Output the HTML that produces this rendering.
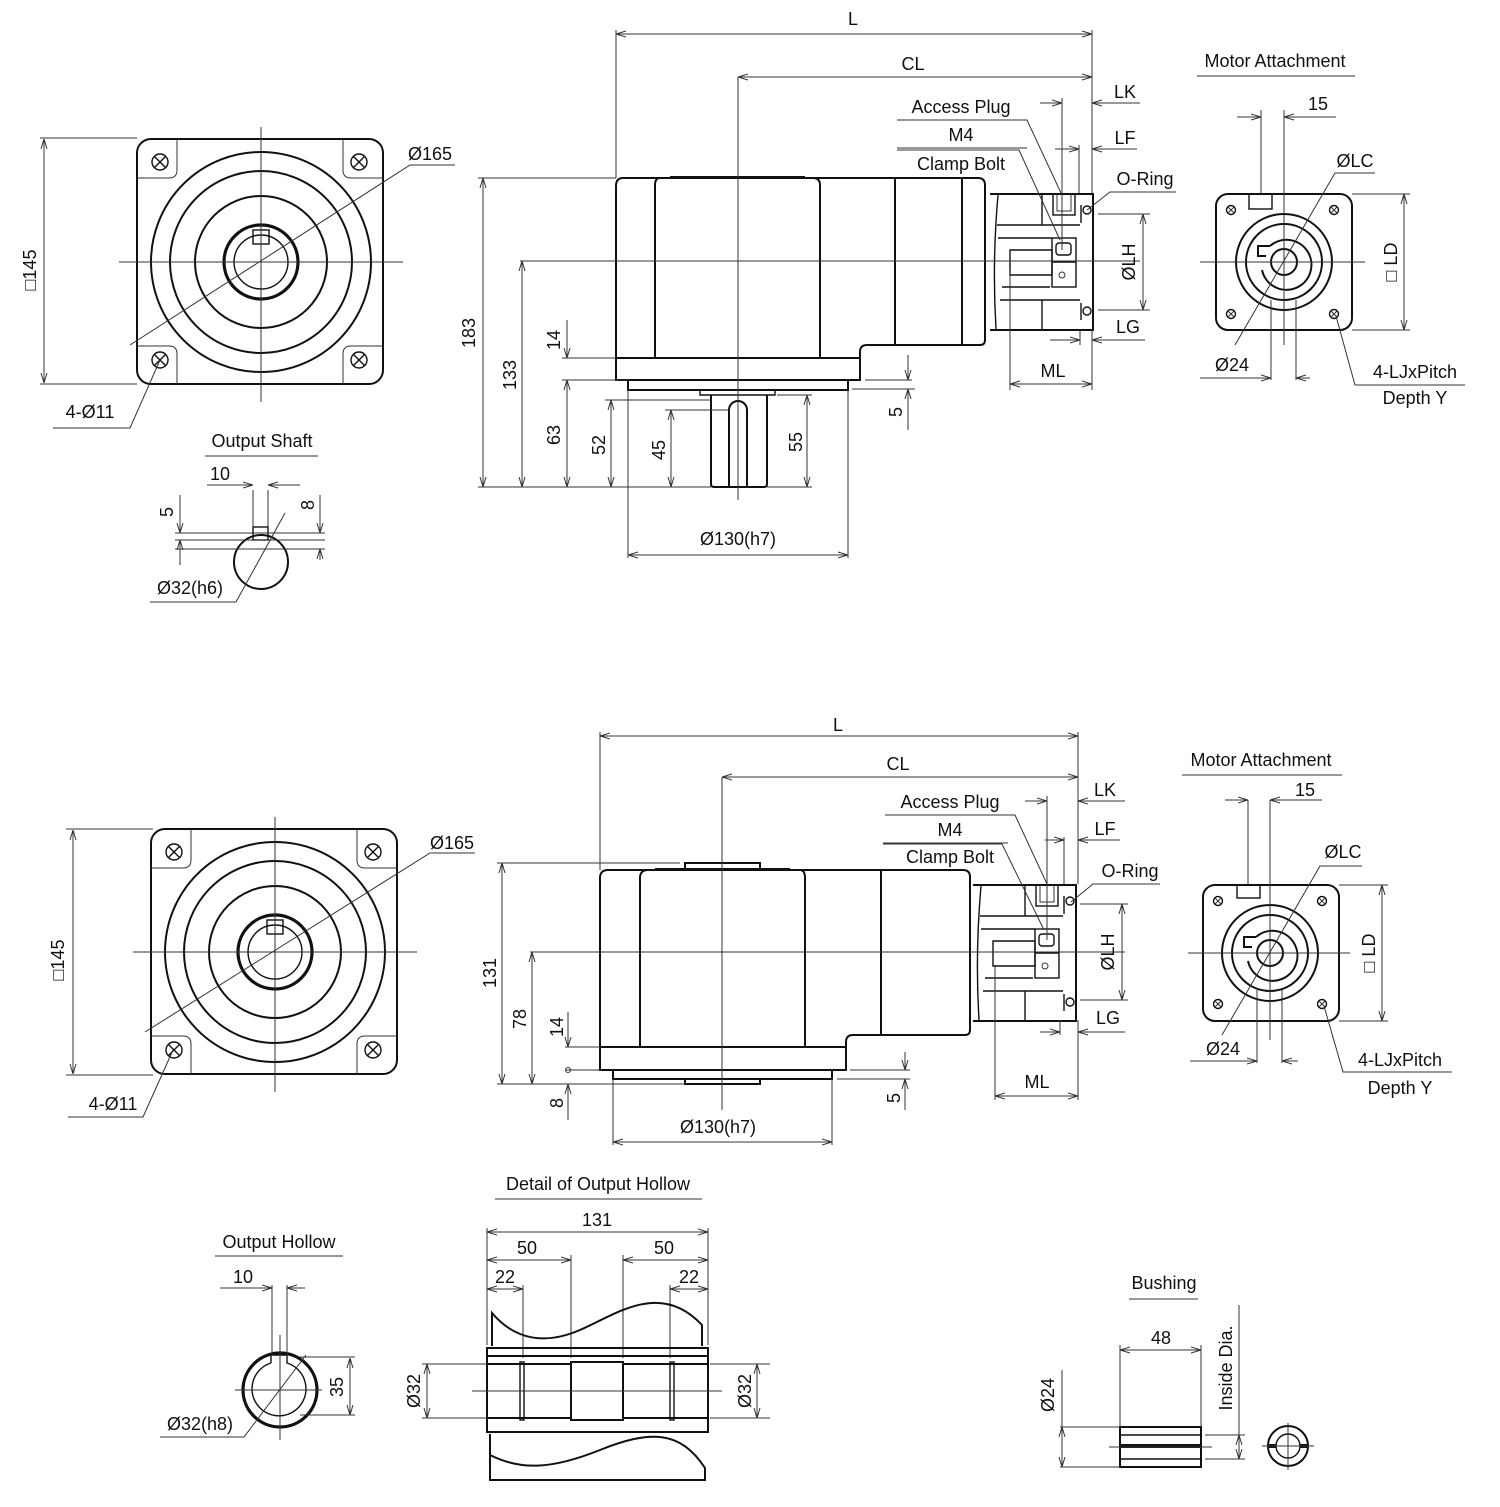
<!DOCTYPE html>
<html><head><meta charset="utf-8"><style>
html,body{margin:0;padding:0;background:#fff}
svg{display:block}
text{font-family:"Liberation Sans","DejaVu Sans",sans-serif;font-size:18px;fill:#111}
.t{stroke:#111;stroke-width:2;fill:none}
.m{stroke:#111;stroke-width:1.4;fill:none}
.d{stroke:#333;stroke-width:1;fill:none}
.tk{stroke:#111;stroke-width:3.2;fill:none}
</style></head><body>
<svg width="1500" height="1507" viewBox="0 0 1500 1507" xmlns="http://www.w3.org/2000/svg">
<defs>
<marker id="a" viewBox="0 0 10 10" refX="10" refY="5" markerWidth="10" markerHeight="10" orient="auto-start-reverse" markerUnits="userSpaceOnUse"><path d="M0,2 L10,5 L0,8" fill="none" stroke="#333" stroke-width="1"/></marker>
<g id="hole"><circle r="8" class="m"/><path d="M-5.5,-5.5 L5.5,5.5 M5.5,-5.5 L-5.5,5.5" class="m"/></g>
<g id="shole"><circle r="4.5" class="m"/><path d="M-3,-3 L3,3 M3,-3 L-3,3" class="d"/></g>
<g id="front">
 <rect x="-124" y="-123" width="246" height="245" rx="14" class="t"/>
 <path d="M-84,-123 V-92 Q-84,-84 -92,-84 H-124 M82,-123 V-92 Q82,-84 90,-84 H122 M-84,122 V92 Q-84,84 -92,84 H-124 M82,122 V92 Q82,84 90,84 H122" class="d"/>
 <use href="#hole" x="-101" y="-100"/><use href="#hole" x="98" y="-100"/><use href="#hole" x="-101" y="98"/><use href="#hole" x="98" y="98"/>
 <circle r="110" class="t"/><circle r="91" class="t"/><circle r="66" class="t"/><circle r="37" class="tk"/><circle r="27" class="m"/>
 <rect x="-8" y="-32" width="16" height="14" class="m" fill="#fff"/>
 <path d="M-142,0 H142 M0,-135 V140" class="d"/>
</g>
<g id="adapter">
 <path d="M0,1 H103 V137 H0" class="t"/>
 <path d="M8,2 Q2,70 6,136" class="m"/>
 <path d="M7,32 H90 M8,45 H62 M20,57 H62 V82 H20 Z M12,94 H60 M10,107 H90 M52,1 V32 M52,107 V137" class="m"/>
 <rect x="63" y="1" width="22" height="21" class="m"/><path d="M67,1 V18 H81 V1" class="d"/>
 <rect x="62" y="45" width="24" height="49" class="m"/><path d="M62,69 H86" class="m"/><rect x="66" y="50" width="15" height="12" rx="3" class="m"/><circle cx="72" cy="82" r="3" class="d"/>
 <circle cx="97" cy="17" r="4" class="m"/><circle cx="97" cy="118" r="4" class="m"/>
 <path d="M91,12 V30 M91,110 V127" class="m"/>
</g>
</defs>

<!-- ========== TOP ========== -->
<use href="#front" x="261" y="262"/>
<path d="M40,138 H137 M40,384 H137" class="d"/>
<path d="M44,139 V383" class="d" marker-start="url(#a)" marker-end="url(#a)"/>
<text transform="translate(36,270) rotate(-90)" text-anchor="middle">□145</text>
<path d="M455,165 H410 L130,345" class="d"/>
<text x="430" y="160" text-anchor="middle">Ø165</text>
<path d="M53,428 H130 L160,360" class="d"/>
<text x="90" y="418" text-anchor="middle">4-Ø11</text>

<!-- output shaft -->
<text x="262" y="447" text-anchor="middle">Output Shaft</text>
<path d="M205,456 H318" class="d"/>
<circle cx="261" cy="562" r="27" class="t"/>
<rect x="253" y="527" width="15" height="13" class="m" fill="#fff"/>
<path d="M253,490 V527 M268,490 V527 M207,485 H253 M268,485 H300" class="d"/>
<path d="M230,485 H253" class="d" marker-end="url(#a)"/><path d="M290,485 H268" class="d" marker-end="url(#a)"/>
<text x="220" y="480" text-anchor="middle">10</text>
<path d="M175,533 H325 M175,540 H325 M175,549 H325" class="d"/>
<path d="M180,495 V533" class="d" marker-end="url(#a)"/><path d="M180,565 V540" class="d" marker-end="url(#a)"/>
<text transform="translate(173,512) rotate(-90)" text-anchor="middle">5</text>
<path d="M320,495 V533" class="d" marker-end="url(#a)"/><path d="M320,560 V549" class="d" marker-end="url(#a)"/>
<text transform="translate(314,505) rotate(-90)" text-anchor="middle">8</text>
<path d="M150,602 H236 L285,513" class="d"/>
<text x="190" y="594" text-anchor="middle">Ø32(h6)</text>

<!-- side view top -->
<path d="M623,178 H813 Q820,178 820,185" class="t"/>
<path d="M623,178 Q616,178 616,186 V380 H860 V352 Q860,345 867,345 H980 Q985,345 985,340 V185 Q985,178 978,178 H813" class="t"/>
<path d="M660,178 Q655,178 655,185 V358 M820,185 V358 M895,178 V345 M962,178 V345 M616,358 H860" class="t"/>
<path d="M670,177 H805" class="t"/>
<path d="M628,380 V390 H848 V380" class="t"/>
<path d="M700,390 V395 H775 V390" class="m"/>
<path d="M711,395 V484 Q711,487 714,487 H764 Q767,487 767,484 V395" class="t"/>
<path d="M729,487 V410 A9,9 0 0 1 747,410 V487" class="t"/>
<use href="#adapter" x="990" y="193"/>
<!-- centerlines -->
<path d="M520,261 H1140 M738,77 V500" class="d"/>
<!-- dims -->
<path d="M616,30 V178 M1092,30 V193" class="d"/>
<path d="M616,34 H1092" class="d" marker-start="url(#a)" marker-end="url(#a)"/>
<text x="853" y="25" text-anchor="middle">L</text>
<path d="M738,77 H1092" class="d" marker-start="url(#a)" marker-end="url(#a)"/>
<text x="913" y="70" text-anchor="middle">CL</text>
<path d="M478,178 H616 M478,487 H711" class="d"/>
<path d="M483,178 V487" class="d" marker-start="url(#a)" marker-end="url(#a)"/>
<text transform="translate(475,333) rotate(-90)" text-anchor="middle">183</text>
<path d="M522,261 V487" class="d" marker-start="url(#a)" marker-end="url(#a)"/>
<text transform="translate(516,375) rotate(-90)" text-anchor="middle">133</text>
<path d="M562,358 H616 M562,380 H628" class="d"/>
<path d="M567,320 V358" class="d" marker-end="url(#a)"/>
<path d="M567,380 V487" class="d" marker-start="url(#a)" marker-end="url(#a)"/>
<text transform="translate(560,340) rotate(-90)" text-anchor="middle">14</text>
<text transform="translate(560,435) rotate(-90)" text-anchor="middle">63</text>
<path d="M605,400 H711" class="d"/>
<path d="M611,400 V487" class="d" marker-start="url(#a)" marker-end="url(#a)"/>
<text transform="translate(605,445) rotate(-90)" text-anchor="middle">52</text>
<path d="M665,410 H729" class="d"/>
<path d="M671,410 V487" class="d" marker-start="url(#a)" marker-end="url(#a)"/>
<text transform="translate(665,450) rotate(-90)" text-anchor="middle">45</text>
<path d="M777,395 H812 M767,487 H812" class="d"/>
<path d="M807,395 V487" class="d" marker-start="url(#a)" marker-end="url(#a)"/>
<text transform="translate(802,442) rotate(-90)" text-anchor="middle">55</text>
<path d="M628,390 V558 M848,390 V558" class="d"/>
<path d="M628,555 H848" class="d" marker-start="url(#a)" marker-end="url(#a)"/>
<text x="738" y="545" text-anchor="middle">Ø130(h7)</text>
<path d="M865,380 H912 M852,389 H915" class="d"/>
<path d="M908,355 V380" class="d" marker-end="url(#a)"/><path d="M908,430 V389" class="d" marker-end="url(#a)"/>
<text transform="translate(902,412) rotate(-90)" text-anchor="middle">5</text>
<!-- adapter dims -->
<text x="961" y="113" text-anchor="middle">Access Plug</text>
<path d="M897,120 H1027 L1061,193" class="d"/>
<text x="961" y="141" text-anchor="middle">M4</text>
<path d="M897,148 H1027" class="d"/>
<text x="961" y="170" text-anchor="middle">Clamp Bolt</text>
<path d="M897,150 H1019 L1060,240" class="d"/>
<path d="M1062,98 V250 M1079,145 V193" class="d"/>
<path d="M1040,103 H1062" class="d" marker-end="url(#a)"/><path d="M1140,103 H1092" class="d" marker-end="url(#a)"/>
<text x="1125" y="98" text-anchor="middle">LK</text>
<path d="M1055,149 H1079" class="d" marker-end="url(#a)"/><path d="M1137,149 H1092" class="d" marker-end="url(#a)"/>
<text x="1125" y="144" text-anchor="middle">LF</text>
<text x="1145" y="185" text-anchor="middle">O-Ring</text>
<path d="M1176,192 H1110 L1087,210" class="d"/>
<path d="M1098,214 H1150 M1098,310 H1150" class="d"/>
<path d="M1143,214 V310" class="d" marker-start="url(#a)" marker-end="url(#a)"/>
<text transform="translate(1135,262) rotate(-90)" text-anchor="middle">ØLH</text>
<path d="M1080,330 V345 M1092,330 V345" class="d"/>
<path d="M1050,340 H1080" class="d" marker-end="url(#a)"/><path d="M1145,340 H1092" class="d" marker-end="url(#a)"/>
<text x="1128" y="333" text-anchor="middle">LG</text>
<path d="M1010,270 V390" class="d"/><path d="M1092,345 V390" class="d"/>
<path d="M1010,384 H1092" class="d" marker-start="url(#a)" marker-end="url(#a)"/>
<text x="1053" y="377" text-anchor="middle">ML</text>

<!-- motor attachment top -->
<text x="1275" y="67" text-anchor="middle">Motor Attachment</text>
<path d="M1197,76 H1355" class="d"/>
<rect x="1216" y="194" width="136" height="136" rx="12" class="t"/>
<use href="#shole" x="1231" y="210"/><use href="#shole" x="1334" y="210"/><use href="#shole" x="1231" y="314"/><use href="#shole" x="1334" y="314"/>
<circle cx="1284" cy="262" r="48" class="t"/><circle cx="1284" cy="262" r="38" class="t"/>
<path d="M1270,246 A25,25 0 1 1 1262,270" class="t"/><path d="M1270,246 H1258 V256 H1266" class="t"/>
<circle cx="1284" cy="262" r="13" class="t"/>
<rect x="1249" y="194" width="23" height="15" class="m"/>
<path d="M1200,262 H1365 M1284,110 V345" class="d"/>
<path d="M1261,110 V194 M1271,300 V380 M1296,300 V380" class="d"/>
<path d="M1237,117 H1261" class="d" marker-end="url(#a)"/><path d="M1336,117 H1284" class="d" marker-end="url(#a)"/>
<text x="1318" y="110" text-anchor="middle">15</text>
<text x="1355" y="167" text-anchor="middle">ØLC</text>
<path d="M1375,173 H1335 L1235,345" class="d"/>
<path d="M1352,194 H1410 M1352,330 H1410" class="d"/>
<path d="M1404,194 V330" class="d" marker-start="url(#a)" marker-end="url(#a)"/>
<text transform="translate(1397,262) rotate(-90)" text-anchor="middle">□ LD</text>
<path d="M1200,378 H1271" class="d" marker-end="url(#a)"/><path d="M1310,378 H1296" class="d" marker-end="url(#a)"/>
<text x="1232" y="371" text-anchor="middle">Ø24</text>
<path d="M1336,316 L1355,385 H1465" class="d"/>
<text x="1415" y="378" text-anchor="middle">4-LJxPitch</text>
<text x="1415" y="404" text-anchor="middle">Depth Y</text>

<!-- ========== BOTTOM ========== -->
<use href="#front" x="275" y="952"/>
<path d="M66,829 H153 M66,1075 H153" class="d"/>
<path d="M73,830 V1074" class="d" marker-start="url(#a)" marker-end="url(#a)"/>
<text transform="translate(64,960) rotate(-90)" text-anchor="middle">□145</text>
<path d="M475,853 H430 L145,1032" class="d"/>
<text x="452" y="849" text-anchor="middle">Ø165</text>
<path d="M68,1117 H143 L173,1050" class="d"/>
<text x="113" y="1110" text-anchor="middle">4-Ø11</text>

<!-- side bottom -->
<path d="M608,870 Q600,870 600,878 V1070 H846 V1042 Q846,1035 853,1035 H965 Q970,1035 970,1030 V877 Q970,870 963,870 Z" class="t"/>
<path d="M648,870 Q640,870 640,878 V1047 M800,870 Q805,870 805,878 V1047 M881,870 V1035 M600,1047 H846" class="t"/>
<path d="M655,869 H790" class="t"/>
<path d="M685,869 V863 H760 V869" class="t"/>
<path d="M613,1070 V1079 H832 V1070" class="t"/>
<path d="M685,1079 V1084 H760 V1079" class="t"/>
<use href="#adapter" x="973" y="884"/>
<path d="M530,952 H1125 M722,777 V1110" class="d"/>
<path d="M600,732 V870 M1078,732 V884" class="d"/>
<path d="M600,736 H1078" class="d" marker-start="url(#a)" marker-end="url(#a)"/>
<text x="838" y="731" text-anchor="middle">L</text>
<path d="M722,777 H1078" class="d" marker-start="url(#a)" marker-end="url(#a)"/>
<text x="898" y="770" text-anchor="middle">CL</text>
<path d="M497,863 H680 M497,1084 H685" class="d"/>
<path d="M502,863 V1084" class="d" marker-start="url(#a)" marker-end="url(#a)"/>
<text transform="translate(496,973) rotate(-90)" text-anchor="middle">131</text>
<path d="M532,952 V1084" class="d" marker-start="url(#a)" marker-end="url(#a)"/>
<text transform="translate(526,1019) rotate(-90)" text-anchor="middle">78</text>
<path d="M565,1047 H600 M565,1070 H600" class="d"/>
<path d="M568,1012 V1047" class="d" marker-end="url(#a)"/>
<path d="M568,1120 V1084" class="d" marker-end="url(#a)"/>
<circle cx="568" cy="1070" r="2.5" class="d"/>
<text transform="translate(563,1027) rotate(-90)" text-anchor="middle">14</text>
<text transform="translate(563,1103) rotate(-90)" text-anchor="middle">8</text>
<path d="M613,1079 V1145 M832,1079 V1145" class="d"/>
<path d="M613,1142 H832" class="d" marker-start="url(#a)" marker-end="url(#a)"/>
<text x="718" y="1133" text-anchor="middle">Ø130(h7)</text>
<path d="M850,1070 H910 M837,1079 H910" class="d"/>
<path d="M905,1052 V1070" class="d" marker-end="url(#a)"/><path d="M905,1110 V1079" class="d" marker-end="url(#a)"/>
<text transform="translate(900,1098) rotate(-90)" text-anchor="middle">5</text>
<text x="950" y="808" text-anchor="middle">Access Plug</text>
<path d="M885,815 H1015 L1047,884" class="d"/>
<text x="950" y="836" text-anchor="middle">M4</text>
<path d="M883,843 H1008" class="d"/>
<text x="950" y="863" text-anchor="middle">Clamp Bolt</text>
<path d="M883,844 H1002 L1044,930" class="d"/>
<path d="M1047,796 V940 M1064,837 V884" class="d"/>
<path d="M1025,801 H1047" class="d" marker-end="url(#a)"/><path d="M1125,801 H1078" class="d" marker-end="url(#a)"/>
<text x="1105" y="796" text-anchor="middle">LK</text>
<path d="M1045,840 H1064" class="d" marker-end="url(#a)"/><path d="M1120,840 H1078" class="d" marker-end="url(#a)"/>
<text x="1105" y="835" text-anchor="middle">LF</text>
<text x="1130" y="877" text-anchor="middle">O-Ring</text>
<path d="M1160,884 H1093 L1071,902" class="d"/>
<path d="M1080,904 H1128 M1080,1000 H1128" class="d"/>
<path d="M1122,904 V1000" class="d" marker-start="url(#a)" marker-end="url(#a)"/>
<text transform="translate(1114,952) rotate(-90)" text-anchor="middle">ØLH</text>
<path d="M1060,1020 V1035" class="d"/>
<path d="M1040,1032 H1060" class="d" marker-end="url(#a)"/><path d="M1125,1032 H1078" class="d" marker-end="url(#a)"/>
<text x="1108" y="1024" text-anchor="middle">LG</text>
<path d="M995,965 V1100 M1078,1020 V1100" class="d"/>
<path d="M995,1096 H1078" class="d" marker-start="url(#a)" marker-end="url(#a)"/>
<text x="1037" y="1088" text-anchor="middle">ML</text>

<!-- motor attachment bottom -->
<text x="1261" y="766" text-anchor="middle">Motor Attachment</text>
<path d="M1182,775 H1342" class="d"/>
<rect x="1203" y="885" width="136" height="136" rx="12" class="t"/>
<use href="#shole" x="1218" y="901"/><use href="#shole" x="1322" y="901"/><use href="#shole" x="1218" y="1004"/><use href="#shole" x="1322" y="1004"/>
<circle cx="1270" cy="953" r="48" class="t"/><circle cx="1270" cy="953" r="38" class="t"/>
<path d="M1256,937 A25,25 0 1 1 1248,961" class="t"/><path d="M1256,937 H1244 V947 H1252" class="t"/>
<circle cx="1270" cy="953" r="13" class="t"/>
<rect x="1237" y="885" width="23" height="13" class="m"/>
<path d="M1188,953 H1350 M1270,800 V1040" class="d"/>
<path d="M1248,800 V885 M1257,990 V1063 M1282,990 V1063" class="d"/>
<path d="M1225,800 H1248" class="d" marker-end="url(#a)"/><path d="M1322,800 H1270" class="d" marker-end="url(#a)"/>
<text x="1305" y="796" text-anchor="middle">15</text>
<text x="1343" y="858" text-anchor="middle">ØLC</text>
<path d="M1362,866 H1320 L1222,1035" class="d"/>
<path d="M1339,885 H1388 M1339,1021 H1388" class="d"/>
<path d="M1382,885 V1021" class="d" marker-start="url(#a)" marker-end="url(#a)"/>
<text transform="translate(1375,953) rotate(-90)" text-anchor="middle">□ LD</text>
<path d="M1190,1061 H1257" class="d" marker-end="url(#a)"/><path d="M1298,1061 H1282" class="d" marker-end="url(#a)"/>
<text x="1223" y="1055" text-anchor="middle">Ø24</text>
<path d="M1324,1006 L1343,1072 H1452" class="d"/>
<text x="1400" y="1066" text-anchor="middle">4-LJxPitch</text>
<text x="1400" y="1094" text-anchor="middle">Depth Y</text>

<!-- output hollow -->
<text x="279" y="1248" text-anchor="middle">Output Hollow</text>
<path d="M215,1256 H343" class="d"/>
<circle cx="280" cy="1390" r="37" class="tk"/>
<path d="M271,1363 V1355 H287 V1363 A27,27 0 1 1 271,1363" class="m"/>
<path d="M272,1285 V1355 M287,1285 V1355 M280,1335 V1440 M235,1390 H322" class="d"/>
<path d="M220,1288 H272" class="d" marker-end="url(#a)"/><path d="M305,1288 H287" class="d" marker-end="url(#a)"/>
<text x="243" y="1283" text-anchor="middle">10</text>
<path d="M300,1357 H355 M300,1415 H355" class="d"/>
<path d="M350,1358 V1415" class="d" marker-start="url(#a)" marker-end="url(#a)"/>
<text transform="translate(343,1387) rotate(-90)" text-anchor="middle">35</text>
<path d="M160,1437 H244 L306,1355" class="d"/>
<text x="200" y="1430" text-anchor="middle">Ø32(h8)</text>

<!-- detail of output hollow -->
<text x="598" y="1190" text-anchor="middle">Detail of Output Hollow</text>
<path d="M495,1199 H702" class="d"/>
<path d="M487,1228 V1345 M708,1228 V1345 M571,1255 V1358 M623,1255 V1358 M523,1285 V1358 M670,1285 V1358" class="d"/>
<path d="M487,1232 H708" class="d" marker-start="url(#a)" marker-end="url(#a)"/>
<text x="597" y="1226" text-anchor="middle">131</text>
<path d="M487,1260 H571" class="d" marker-start="url(#a)" marker-end="url(#a)"/>
<text x="527" y="1254" text-anchor="middle">50</text>
<path d="M623,1260 H708" class="d" marker-start="url(#a)" marker-end="url(#a)"/>
<text x="664" y="1254" text-anchor="middle">50</text>
<path d="M487,1289 H523" class="d" marker-start="url(#a)" marker-end="url(#a)"/>
<text x="505" y="1283" text-anchor="middle">22</text>
<path d="M670,1289 H708" class="d" marker-start="url(#a)" marker-end="url(#a)"/>
<text x="689" y="1283" text-anchor="middle">22</text>
<path d="M492,1346 V1313 C515,1340 545,1345 580,1330 S660,1280 702,1325 V1346" class="t"/>
<rect x="487" y="1348" width="221" height="84" class="t"/>
<path d="M487,1356 H708 M487,1364 H571 M623,1364 H708 M487,1418 H571 M623,1418 H708" class="t"/>
<rect x="571" y="1362" width="52" height="58" class="t"/>
<rect x="520" y="1362" width="4" height="58" class="m"/><rect x="670" y="1362" width="4" height="58" class="m"/>
<path d="M490,1434 V1480 H705 V1468 C680,1430 650,1430 600,1450 S520,1470 490,1455" class="t"/>
<path d="M472,1391 H722" class="d"/>
<path d="M422,1364 H487 M422,1418 H487 M710,1364 H770 M710,1418 H770" class="d"/>
<path d="M427,1364 V1418" class="d" marker-start="url(#a)" marker-end="url(#a)"/>
<text transform="translate(420,1391) rotate(-90)" text-anchor="middle">Ø32</text>
<path d="M757,1364 V1418" class="d" marker-start="url(#a)" marker-end="url(#a)"/>
<text transform="translate(751,1391) rotate(-90)" text-anchor="middle">Ø32</text>

<!-- bushing -->
<text x="1164" y="1289" text-anchor="middle">Bushing</text>
<path d="M1129,1299 H1198" class="d"/>
<rect x="1120" y="1427" width="81" height="40" class="t"/>
<path d="M1120,1435 H1201 M1120,1459 H1201 M1120,1446 H1201" class="m"/>
<rect x="1120" y="1444" width="81" height="4" fill="#111"/>
<path d="M1109,1447 H1212" class="d"/>
<path d="M1120,1345 V1427 M1201,1345 V1427" class="d"/>
<path d="M1120,1350 H1201" class="d" marker-start="url(#a)" marker-end="url(#a)"/>
<text x="1161" y="1344" text-anchor="middle">48</text>
<path d="M1060,1427 H1120 M1060,1467 H1120" class="d"/>
<path d="M1062,1427 V1467" class="d" marker-start="url(#a)" marker-end="url(#a)"/>
<path d="M1062,1370 V1427" class="d"/>
<text transform="translate(1054,1395) rotate(-90)" text-anchor="middle">Ø24</text>
<path d="M1205,1435 H1245 M1205,1459 H1245" class="d"/>
<path d="M1239,1435 V1459" class="d" marker-start="url(#a)" marker-end="url(#a)"/>
<path d="M1239,1305 V1435" class="d"/>
<text transform="translate(1232,1368) rotate(-90)" text-anchor="middle">Inside Dia.</text>
<circle cx="1288" cy="1446" r="20" class="t"/><circle cx="1288" cy="1446" r="12" class="m"/>
<rect x="1268" y="1444" width="8" height="4" fill="#111"/><rect x="1300" y="1444" width="8" height="4" fill="#111"/>
<path d="M1262,1446 H1314 M1288,1423 V1470" class="d"/>
</svg>
</body></html>
